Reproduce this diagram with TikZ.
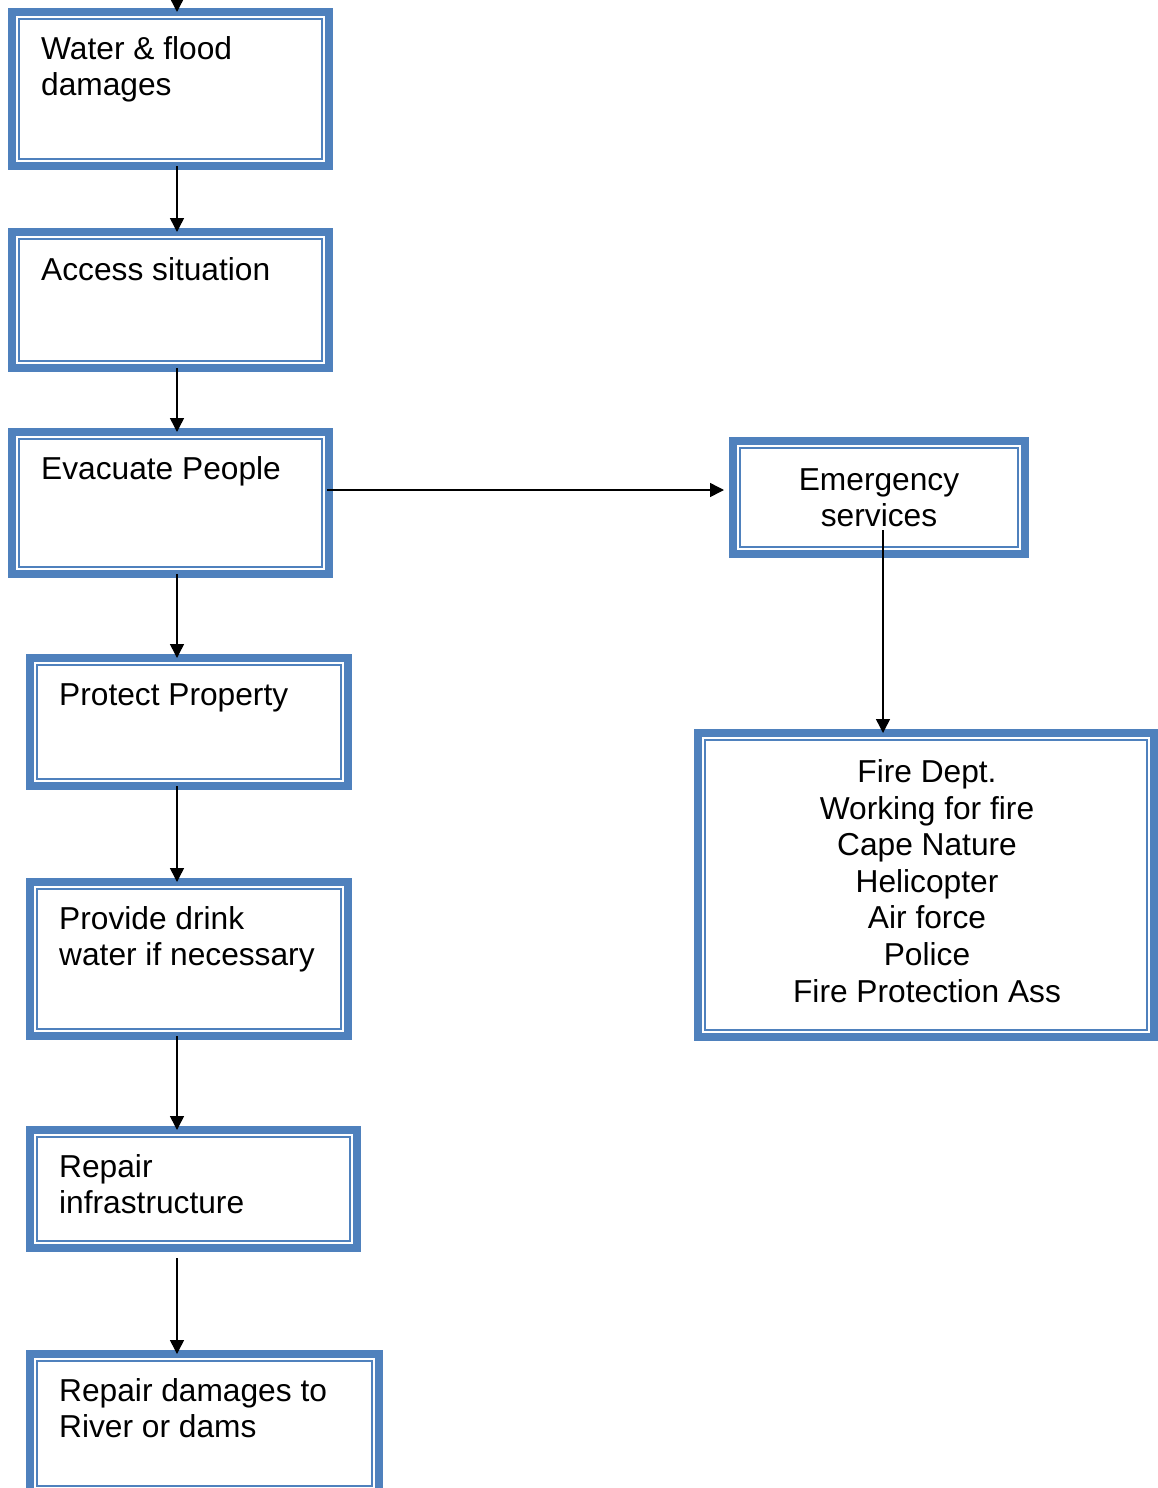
\documentclass[tikz,border=0pt]{standalone}
\usepackage{fontspec}
\setmainfont{Liberation Sans}
\usetikzlibrary{arrows.meta,calc}
\definecolor{boxblue}{HTML}{4F81BD}
\tikzset{
  fbox/.style={draw=boxblue, line width=8pt, inner sep=0pt, outer sep=0pt, anchor=north west,
    path picture={\draw[boxblue,line width=2pt]
      ([shift={(7pt,-7pt)}]path picture bounding box.north west) rectangle
      ([shift={(-7pt,7pt)}]path picture bounding box.south east);}},
  ltext/.style={anchor=base west, inner sep=0pt, align=left,
    font=\fontsize{31.7}{36.6}\selectfont},
  ctext/.style={anchor=base, inner sep=0pt, align=center,
    font=\fontsize{31.7}{36.6}\selectfont},
  arr/.style={line width=1.5pt, -{Triangle[length=14pt,width=14pt]}},
}
\begin{document}
\begin{tikzpicture}[x=1pt,y=-1pt]
\useasboundingbox (0,0) rectangle (1158,1488);
% boxes
\node[fbox, minimum width=317pt, minimum height=154pt] (b1) at (12,12) {};
\node[fbox, minimum width=317pt, minimum height=136pt] (b2) at (12,232) {};
\node[fbox, minimum width=317pt, minimum height=142pt] (b3) at (12,432) {};
\node[fbox, minimum width=318pt, minimum height=128pt] (b4) at (30,658) {};
\node[fbox, minimum width=318pt, minimum height=154pt] (b5) at (30,882) {};
\node[fbox, minimum width=327pt, minimum height=118pt] (b6) at (30,1130) {};
\node[fbox, minimum width=349pt, minimum height=139pt] (b7) at (30,1354) {};
\node[fbox, minimum width=292pt, minimum height=113pt] (b8) at (733,441) {};
\node[fbox, minimum width=456pt, minimum height=304pt] (b9) at (698,733) {};
% texts (base anchor = baseline of the last line)
\node[ltext] (t1) at (41,95.6) {Water \& flood\\damages};
\node[ltext] (t2) at (41,280) {Access situation};
\node[ltext] (t3) at (41,479) {Evacuate People};
\node[ltext] (t4) at (59,705) {Protect Property};
\node[ltext] (t5) at (59,965.6) {Provide drink\\water if necessary};
\node[ltext] (t6) at (59,1213.6) {Repair\\infrastructure};
\node[ltext] (t7) at (59,1437.6) {Repair damages to\\River or dams};
\node[ctext] (t8) at (879,526.6) {Emergency\\services};
\node[ctext] (t9) at (927,1002) {Fire Dept.\\Working for fire\\Cape Nature\\Helicopter\\Air force\\Police\\Fire Protection Ass};
% connectors
\coordinate (ax) at (177,0);
\coordinate (hy) at (0,490);
\coordinate (fx) at (883,0);
\draw[arr] (ax) -- (b1.north -| ax);
\draw[arr] (b1.south -| ax) -- (b2.north -| ax);
\draw[arr] (b2.south -| ax) -- (b3.north -| ax);
\draw[arr] (b3.south -| ax) -- (b4.north -| ax);
\draw[arr] (b4.south -| ax) -- (b5.north -| ax);
\draw[arr] (b5.south -| ax) -- (b6.north -| ax);
\draw[arr, shorten <=10pt] (b6.south -| ax) -- (b7.north -| ax);
\draw[arr, shorten <=-2pt, shorten >=9pt] (b3.east |- hy) -- (b8.west |- hy);
\draw[arr, shorten <=-24pt] (b8.south -| fx) -- (b9.north -| fx);
\end{tikzpicture}
\end{document}
